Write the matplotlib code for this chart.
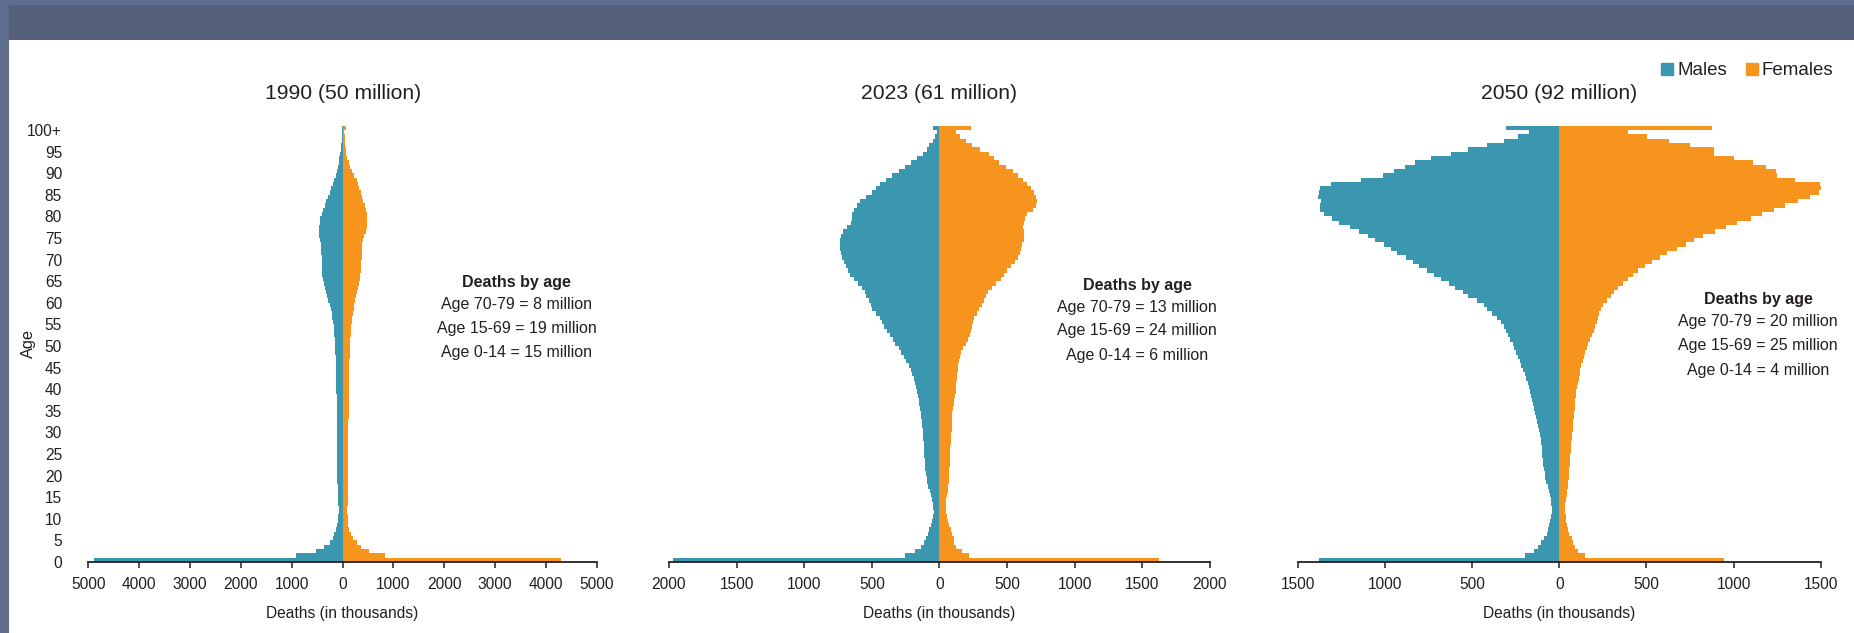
import matplotlib
matplotlib.use("Agg")
import matplotlib.pyplot as plt
import numpy as np
from matplotlib.lines import Line2D
from matplotlib.patches import Rectangle
from matplotlib.ticker import FuncFormatter

plt.rcParams["font.family"] = ["Liberation Sans", "DejaVu Sans"]
plt.rcParams.update({
    "text.color": "#231f20",
    "axes.labelcolor": "#231f20",
    "xtick.color": "#231f20",
    "ytick.color": "#231f20",
})

C_MALE, C_FEMALE = "#3b97b0", "#f7941d"
FRAME_LIGHT, FRAME_DARK = "#5f6d8e", "#55617a"

# deaths (thousands) by single year of age 0..99, last entry = 100+
m1990 = [4890, 918, 515, 370, 250, 193, 170, 130, 105, 90,
         82, 80, 80, 82, 86, 92, 97, 100, 103, 105,
         108, 110, 110, 112, 113, 113, 113, 114, 114, 114,
         115, 115, 115, 115, 115, 116, 117, 118, 118, 120,
         122, 125, 128, 130, 130, 132, 134, 136, 140, 145,
         150, 155, 160, 168, 175, 185, 200, 215, 235, 255,
         280, 305, 330, 350, 368, 385, 398, 402, 405, 408,
         410, 415, 422, 432, 445, 455, 460, 458, 450, 435,
         412, 385, 352, 320, 290, 255, 225, 195, 165, 135,
         113, 95, 78, 62, 48, 36, 26, 18, 12, 8,
         10]
f1990 = [4300, 837, 515, 370, 275, 210, 160, 130, 110, 100,
         97, 95, 95, 97, 100, 102, 104, 105, 106, 107,
         108, 110, 110, 111, 112, 113, 113, 113, 113, 114,
         115, 115, 116, 117, 118, 120, 122, 124, 126, 128,
         128, 129, 130, 130, 130, 132, 135, 138, 142, 146,
         150, 155, 160, 166, 175, 185, 195, 208, 222, 232,
         240, 258, 274, 295, 318, 338, 350, 360, 368, 372,
         375, 377, 380, 388, 400, 430, 460, 472, 480, 483,
         475, 460, 435, 405, 375, 355, 330, 305, 280, 225,
         177, 145, 118, 95, 75, 58, 48, 42, 38, 35,
         72]
m2023 = [1970, 255, 180, 140, 115, 100, 88, 78, 66, 55,
         48, 44, 45, 48, 55, 65, 72, 82, 90, 96,
         103, 106, 108, 110, 112, 113, 115, 117, 119, 121,
         123, 127, 131, 135, 139, 143, 148, 152, 157, 165,
         175, 182, 190, 200, 212, 228, 244, 262, 282, 300,
         326, 345, 369, 390, 413, 425, 442, 470, 500, 510,
         524, 540, 553, 575, 600, 631, 660, 675, 690, 705,
         718, 728, 733, 735, 733, 725, 710, 684, 655, 650,
         646, 630, 611, 587, 544, 500, 470, 442, 398, 349,
         302, 253, 209, 166, 122, 93, 75, 45, 30, 15,
         50]
f2023 = [1625, 221, 163, 125, 108, 105, 95, 82, 73, 62,
         52, 47, 47, 48, 50, 55, 60, 64, 67, 68,
         70, 72, 74, 76, 78, 80, 81, 83, 85, 87,
         89, 91, 93, 95, 96, 100, 105, 110, 115, 119,
         120, 123, 127, 131, 135, 140, 146, 152, 160, 175,
         195, 210, 222, 230, 240, 250, 258, 275, 295, 312,
         328, 342, 356, 385, 420, 455, 480, 500, 528, 560,
         580, 592, 603, 612, 622, 625, 622, 620, 625, 632,
         650, 690, 712, 721, 715, 700, 680, 645, 620, 580,
         540, 490, 440, 400, 365, 300, 241, 198, 154, 125,
         233]
m2050 = [1380, 196, 148, 120, 105, 88, 72, 64, 58, 52,
         48, 45, 44, 46, 50, 56, 62, 68, 74, 80,
         85, 88, 91, 94, 97, 100, 102, 104, 107, 112,
         117, 122, 127, 133, 140, 146, 152, 158, 164, 170,
         176, 182, 190, 198, 206, 218, 226, 236, 248, 258,
         268, 283, 294, 305, 316, 337, 359, 388, 414, 435,
         475, 522, 555, 599, 636, 679, 718, 762, 806, 838,
         882, 932, 969, 1006, 1056, 1099, 1150, 1204, 1263, 1306,
         1350, 1376, 1376, 1370, 1385, 1380, 1376, 1311, 1137, 1012,
         947, 886, 827, 736, 620, 522, 414, 320, 240, 174,
         309]
f2050 = [945, 148, 105, 90, 80, 70, 58, 50, 45, 40,
         36, 34, 33, 34, 38, 42, 45, 48, 50, 53,
         55, 57, 59, 60, 62, 65, 67, 69, 71, 74,
         76, 78, 80, 82, 84, 87, 89, 92, 95, 98,
         102, 107, 112, 116, 121, 127, 133, 140, 148, 157,
         166, 174, 188, 196, 205, 215, 222, 229, 240, 252,
         272, 294, 316, 337, 366, 392, 425, 453, 490, 533,
         577, 620, 675, 729, 773, 827, 893, 958, 1019, 1100,
         1165, 1230, 1295, 1372, 1437, 1492, 1507, 1498, 1354, 1252,
         1241, 1187, 1110, 1002, 886, 886, 751, 631, 505, 392,
         875]

titles = ["1990 (50 million)", "2023 (61 million)", "2050 (92 million)"]
notes = [
    ["Age 70-79 = 8 million", "Age 15-69 = 19 million", "Age 0-14 = 15 million"],
    ["Age 70-79 = 13 million", "Age 15-69 = 24 million", "Age 0-14 = 6 million"],
    ["Age 70-79 = 20 million", "Age 15-69 = 25 million", "Age 0-14 = 4 million"],
]
x_limits = [5000, 2000, 1500]
x_steps = [1000, 500, 500]

age_edges = np.arange(102)
age_ticks = list(range(0, 101, 5))
age_labels = [str(a) for a in age_ticks[:-1]] + ["100+"]

fig = plt.figure(figsize=(18.54, 6.33), dpi=100)

# slate frame: left strip + header band
fig.add_artist(Rectangle((0, 0), 9 / 1854, 1, transform=fig.transFigure,
                         color=FRAME_LIGHT, lw=0, zorder=0))
fig.add_artist(Rectangle((0, 1 - 5 / 633), 1, 5 / 633, transform=fig.transFigure,
                         color=FRAME_LIGHT, lw=0, zorder=0))
fig.add_artist(Rectangle((9 / 1854, 1 - 40 / 633), 1, 35 / 633, transform=fig.transFigure,
                         color=FRAME_DARK, lw=0, zorder=0))

bottom, height = 0.11216, 0.68926
rects = [
    (0.04773, bottom, 0.27410, height),
    (0.36084, bottom, 0.29180, height),
    (0.70011, bottom, 0.28193, height),
]
# text block centre (axes fraction) and line positions
note_x = [0.843, 0.865, 0.880]
note_y = [
    [0.640, 0.591, 0.536, 0.481],
    [0.633, 0.584, 0.530, 0.473],
    [0.602, 0.551, 0.497, 0.440],
]

FS_TICK, FS_NOTE, FS_LABEL, FS_TITLE = 11.2, 11.5, 11.2, 15.2

series = [(m1990, f1990), (m2023, f2023), (m2050, f2050)]

for i, (rect, (males, females)) in enumerate(zip(rects, series)):
    ax = fig.add_axes(rect)
    ax.stairs(-np.asarray(males, float), age_edges, orientation="horizontal",
              fill=True, color=C_MALE, lw=0)
    ax.stairs(np.asarray(females, float), age_edges, orientation="horizontal",
              fill=True, color=C_FEMALE, lw=0)

    lim = x_limits[i]
    ax.set_xlim(-lim, lim)
    ax.set_ylim(0, 101)
    ax.set_xticks(np.arange(-lim, lim + 1, x_steps[i]))
    ax.xaxis.set_major_formatter(FuncFormatter(lambda v, p: f"{abs(int(round(v)))}"))
    ax.tick_params(axis="x", length=4, width=1.1, pad=7, labelsize=FS_TICK)

    for side in ("top", "right", "left"):
        ax.spines[side].set_visible(False)
    ax.spines["bottom"].set_linewidth(1.3)
    ax.spines["bottom"].set_color("#231f20")

    if i == 0:
        ax.set_yticks(age_ticks)
        ax.set_yticklabels(age_labels)
        ax.tick_params(axis="y", length=0, pad=19, labelsize=FS_TICK)
        ax.set_ylabel("Age", fontsize=11.8)
        ax.yaxis.set_label_coords(-0.103, 0.5)
    else:
        ax.set_yticks([])

    ax.set_title(titles[i], fontsize=FS_TITLE, pad=19)
    ax.set_xlabel("Deaths (in thousands)", fontsize=FS_LABEL, labelpad=10)

    ys = note_y[i]
    ax.text(note_x[i], ys[0], "Deaths by age", transform=ax.transAxes,
            ha="center", va="center", fontsize=FS_NOTE, fontweight="bold")
    for line, y in zip(notes[i], ys[1:]):
        ax.text(note_x[i], y, line, transform=ax.transAxes,
                ha="center", va="center", fontsize=FS_NOTE)

handles = [
    Line2D([], [], ls="none", marker="s", ms=9, color=C_MALE, label="Males"),
    Line2D([], [], ls="none", marker="s", ms=9, color=C_FEMALE, label="Females"),
]
fig.legend(handles=handles, loc="center right", bbox_to_anchor=(0.989, 0.888),
           ncol=2, frameon=False, fontsize=13.5, handletextpad=0.15,
           columnspacing=0.9, handlelength=0.8, borderpad=0, borderaxespad=0)

fig.savefig("out.png", dpi=100)
